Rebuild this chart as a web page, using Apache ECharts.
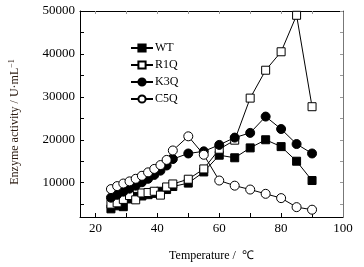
<!DOCTYPE html>
<html>
<head>
<meta charset="utf-8">
<script src="https://cdn.jsdelivr.net/npm/echarts@6/dist/echarts.min.js"></script>
<style>
  html, body { margin: 0; padding: 0; background: #fff; }
  #chart { width: 364px; height: 267px; }
</style>
</head>
<body>
<div id="chart"></div>
<script>
// temperatures (℃) and activities (U/mL)
var temps = [25, 27, 29, 31, 33, 35, 37, 39, 41, 43, 45, 50, 55, 60, 65, 70, 75, 80, 85, 90];
var wt  = [3900, 4600, 4400, 6200, 6800, 6900, 7200, 7500, 8000, 8400, 9100, 9900, 12500, 16400, 15800, 18100, 20000, 18400, 15000, 10500];
var r1q = [5000, 5300, 6100, 7000, 6000, 7600, 7700, 8000, 7100, 9000, 9700, 10800, 13200, 17800, 19900, 29700, 36200, 40500, 49000, 27700];
var k3q = [6500, 7200, 7900, 8600, 9300, 10100, 10900, 11800, 12800, 14000, 15500, 16800, 17300, 18800, 20500, 21600, 25400, 22500, 19000, 16800];
var c5q = [8500, 9200, 9800, 10300, 10900, 11600, 12400, 13200, 14100, 15300, 17500, 20800, 16500, 10500, 9300, 8400, 7400, 6400, 4300, 3700];

var xLabels = [20, 40, 60, 80, 100];
var xTicks = [20, 30, 40, 50, 60, 70, 80, 90];
var yLabels = [10000, 20000, 30000, 40000, 50000];
var yTicks = [5000, 10000, 15000, 20000, 25000, 30000, 35000, 40000, 45000, 50000];

var font = 'Liberation Serif, Times New Roman, serif';

function pairs(arr) {
    return temps.map(function (t, i) { return [t, arr[i]]; });
}

function makeSeries(name, arr, symbol, fill, size) {
    return {
        name: name,
        type: 'line',
        data: pairs(arr),
        symbol: symbol,
        symbolSize: size,
        lineStyle: { color: '#000', width: 1 },
        itemStyle: { color: fill, borderColor: '#000', borderWidth: 1 },
        emphasis: { disabled: true },
        animation: false
    };
}

var mchart = echarts.init(document.getElementById('chart'));

var option = {
    backgroundColor: '#fff',
    animation: false,
    textStyle: { fontFamily: font },
    grid: { left: 79, right: 21, top: 11, bottom: 45 },
    legend: {
        orient: 'vertical',
        left: 125,
        top: 37,
        itemWidth: 22,
        itemHeight: 9,
        itemGap: 5,
        textStyle: { fontFamily: font, fontSize: 12, color: '#000', padding: [0, 0, 0, -3] },
        data: ['WT', 'R1Q', 'K3Q', 'C5Q']
    },
    xAxis: [
        {
            type: 'value',
            min: 15,
            max: 100,
            name: 'Temperature /  ℃',
            nameLocation: 'middle',
            nameGap: 33,
            nameTextStyle: { fontFamily: font, fontSize: 12, color: '#000' },
            axisLine: { lineStyle: { color: '#000', width: 1 } },
            axisTick: { inside: true, length: 4, customValues: xTicks, lineStyle: { color: '#000' } },
            axisLabel: { customValues: xLabels, fontFamily: font, fontSize: 13, color: '#000', margin: 5 },
            splitLine: { show: false }
        },
        {
            type: 'value',
            position: 'top',
            min: 15,
            max: 100,
            axisLine: { lineStyle: { color: '#000', width: 1 } },
            axisTick: { inside: true, length: 3, customValues: xTicks, lineStyle: { color: '#999' } },
            axisLabel: { show: false },
            splitLine: { show: false }
        }
    ],
    yAxis: [
        {
            type: 'value',
            min: 2000,
            max: 50000,
            name: '{n|Enzyme activity / U·mL}{s|−1}',
            nameLocation: 'middle',
            nameGap: 58,
            nameRotate: 90,
            nameTextStyle: {
                padding: [0, 16, 0, 0],
                rich: {
                    n: { fontFamily: font, fontSize: 12, color: '#2a1a10' },
                    s: { fontFamily: font, fontSize: 8, color: '#2a1a10', verticalAlign: 'top', padding: [0, 0, 6, 0] }
                }
            },
            axisLine: { lineStyle: { color: '#000', width: 1 } },
            axisTick: { inside: true, length: 4, customValues: yTicks, lineStyle: { color: '#000' } },
            axisLabel: {
                customValues: yLabels,
                formatter: function (v) { return String(v); },
                fontFamily: font, fontSize: 13, color: '#000', margin: 5
            },
            splitLine: { show: false }
        },
        {
            type: 'value',
            position: 'right',
            min: 2000,
            max: 50000,
            axisLine: { show: true, lineStyle: { color: '#777', width: 1 } },
            axisTick: { show: true, inside: true, length: 3, customValues: yTicks, lineStyle: { color: '#999' } },
            axisLabel: { show: false },
            splitLine: { show: false }
        }
    ],
    series: [
        makeSeries('WT', wt, 'rect', '#000', 8),
        makeSeries('R1Q', r1q, 'rect', '#fff', 8),
        makeSeries('K3Q', k3q, 'circle', '#000', 9),
        makeSeries('C5Q', c5q, 'circle', '#fff', 9)
    ]
};

mchart.setOption(option, true);
</script>
</body>
</html>
